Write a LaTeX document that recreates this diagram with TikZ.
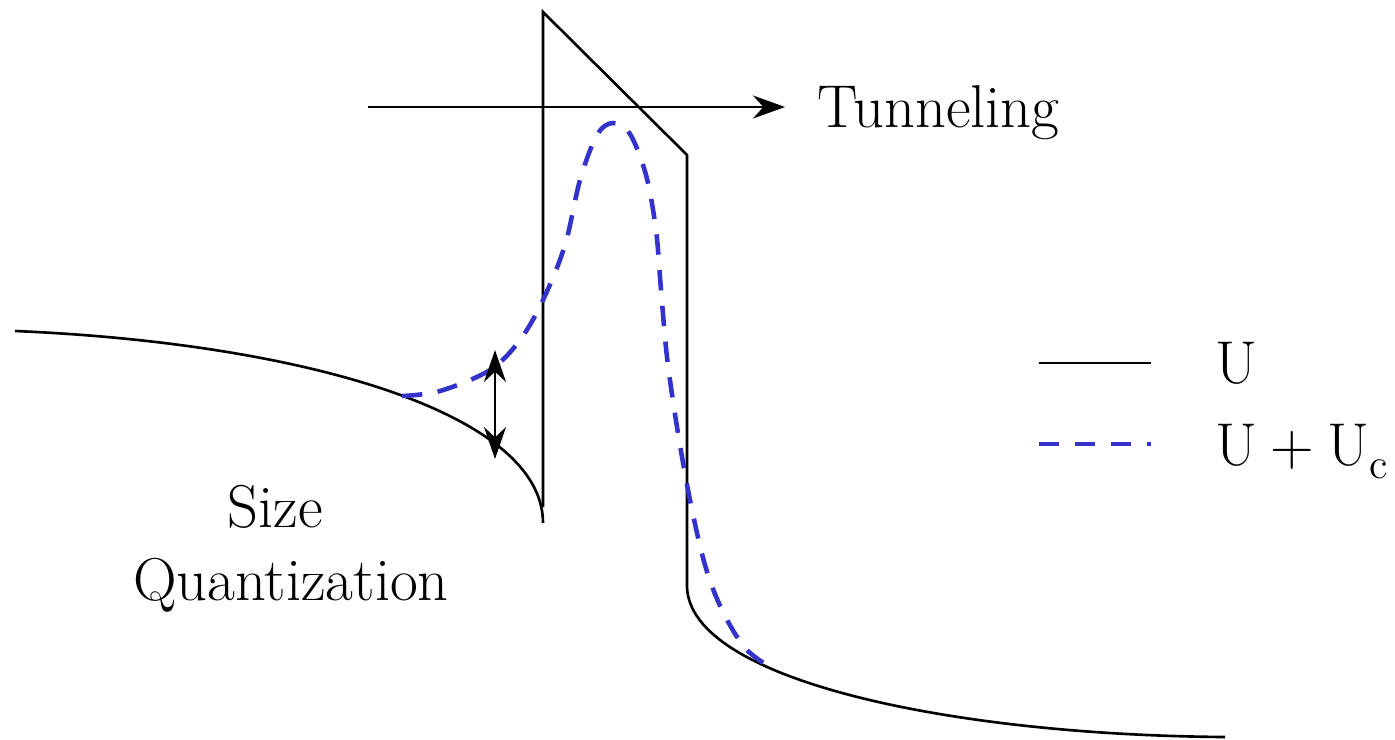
\documentclass[tikz,border=0pt]{standalone}
\usepackage{fontspec}
\usepackage{xcolor}
\usepackage{tikz}
\usetikzlibrary{arrows.meta}

\definecolor{qblue}{RGB}{51,51,204}

\begin{document}
\begin{tikzpicture}[
    x=0.01cm, y=-0.01cm,
    % bare potential U (black)
    pot/.style={draw=black, line width=0.75pt},
    % corrected potential U + U_c (blue, dashed)
    corr/.style={draw=qblue, line width=1.3pt, dash pattern=on 5.8pt off 4.4pt},
    arrow/.style={-{Stealth[length=3.2mm, width=2.3mm]}, line width=0.75pt},
    dblarrow/.style={{Stealth[length=3.2mm, width=2.2mm]}-{Stealth[length=3.2mm, width=2.2mm]}, line width=0.75pt},
    lbl/.style={font=\fontsize{17.2}{21}\selectfont, inner sep=0pt}
]
\useasboundingbox (0,0) rectangle (1395,739);

%-------- POTENTIAL U --------
% left well, bending down towards the barrier
\draw[pot] (15,331) .. controls (300,343) and (543,412) .. (543,523);
% barrier and right side
\draw[pot] (543,507) -- (543,12) -- (687,155) -- (687,587)
    .. controls (690,680) and (950,735) .. (1225,737);

%-------- POTENTIAL U + U_c --------
\draw[corr] plot[smooth, tension=0.55] coordinates {
    (402,396) (440,391) (490,370) (520,340) (543,300) (565,245)
    (580,180) (597,135) (613,123) (630,134) (646,175) (656,230)
    (661,290) (667,357) (677,427) (690,500) (705,565) (722,610)
    (745,648) (770,667)};

%-------- TUNNELING --------
\coordinate (tunstart) at (368,107);
\coordinate (tunend)   at (785,107);
\draw[arrow] (tunstart) -- (tunend);
\node[lbl, anchor=base west] (tunlbl) at (817,127) {Tunneling};

%-------- SIZE QUANTIZATION --------
\coordinate (sqtop) at (495,350);
\coordinate (sqbot) at (495,459);
\draw[dblarrow] (sqtop) -- (sqbot);
\node[lbl, anchor=base] (sizelbl)  at (275,527) {Size};
\node[lbl, anchor=base] (quantlbl) at (291,600) {Quantization};

%-------- LEGEND --------
\coordinate (legUa) at (1039,363);
\coordinate (legUb) at (1151,363);
\coordinate (legCa) at (1039,444);
\coordinate (legCb) at (1151,444);
\draw[pot]  (legUa) -- (legUb);
\draw[corr] (legCa) -- (legCb);
\node[lbl, anchor=base west] (legU) at (1215,383) {U};
\node[lbl, anchor=base west] (legC) at (1215,465)
    {U\kern3.8pt+\kern3.8pt U\raisebox{-3.7pt}{\fontsize{12}{13}\selectfont c}};

\end{tikzpicture}
\end{document}
